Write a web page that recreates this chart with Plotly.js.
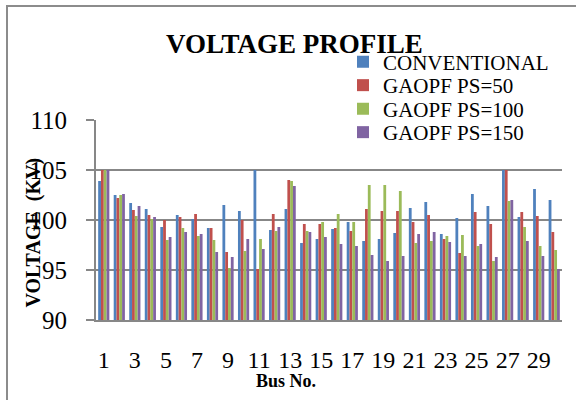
<!DOCTYPE html>
<html>
<head>
<meta charset="utf-8">
<script src="https://cdn.plot.ly/plotly-3.0.1.min.js"></script>
<style>
html,body{margin:0;padding:0;background:#fff;}
#chart{width:576px;height:400px;}
</style>
</head>
<body>
<div id="chart"></div>
<script>
var buses = [1,2,3,4,5,6,7,8,9,10,11,12,13,14,15,16,17,18,19,20,21,22,23,24,25,26,27,28,29,30];
var conventional = [103.9,102.5,101.7,101.1,99.3,100.5,100.1,99.2,101.5,100.9,105.0,99.0,101.1,97.7,98.1,99.1,99.8,97.9,98.1,98.7,101.2,101.8,98.6,100.2,102.6,101.4,105.0,100.3,103.1,102.0];
var ps50 = [105.0,102.2,101.0,100.5,100.0,100.3,100.6,99.2,96.8,100.0,95.1,100.6,104.0,99.6,99.6,99.2,98.9,101.1,100.9,100.9,99.8,100.5,98.1,96.7,100.8,99.6,105.0,100.8,100.4,98.8];
var ps100 = [105.0,102.5,100.4,100.1,98.0,99.2,98.4,98.0,95.2,96.9,98.1,98.9,103.9,98.9,99.8,100.6,99.8,103.5,103.5,102.9,97.7,97.9,98.4,98.5,97.4,95.9,101.9,99.3,97.4,97.0];
var ps150 = [105.0,102.6,101.4,100.3,98.3,98.8,98.6,96.8,96.3,98.1,97.1,99.3,103.4,98.8,98.3,97.6,97.4,96.5,95.9,96.4,98.6,98.8,97.8,96.4,97.6,96.3,102.0,97.9,96.4,95.1];
var seriesNames = ["CONVENTIONAL","GAOPF PS=50","GAOPF PS=100","GAOPF PS=150"];
var yTicks = [90,95,100,105,110];
var xTicks = [1,3,5,7,9,11,13,15,17,19,21,23,25,27,29];

var colors = ["#4F81BD","#C0504D","#9BBB59","#8064A2"];
var allSeries = [conventional, ps50, ps100, ps150];
var legendIds = ["legend","legend2","legend3","legend4"];
var serif = "Liberation Serif, Times New Roman, serif";

var traces = allSeries.map(function(vals, i){
  return {
    type: "bar",
    name: seriesNames[i],
    x: buses,
    y: vals,
    marker: {color: colors[i]},
    legend: legendIds[i],
    hoverinfo: "x+y+name"
  };
});

// plot area geometry in px
var L = 96, R = 14, T = 120, B = 80, W = 576 - L - R, H = 400 - T - B;
function px(x){ return (x - L) / W; }
function py(y){ return (T + H - y) / H; }

var legendRows = [62, 85.5, 109, 132.5];
var legendX = px(343);

var layout = {
  width: 576,
  height: 400,
  margin: {l: L, r: R, t: T, b: B},
  paper_bgcolor: "#ffffff",
  plot_bgcolor: "rgba(0,0,0,0)",
  barmode: "group",
  bargap: 0.28,
  bargroupgap: 0,
  font: {family: serif, color: "#000000"},
  title: {
    text: "<b>VOLTAGE PROFILE</b>",
    font: {family: serif, size: 27, color: "#000000"},
    xref: "paper", x: px(294.5), xanchor: "center",
    yref: "container", y: 1 - 43.5/400, yanchor: "middle"
  },
  xaxis: {
    range: [0.5, 30.5],
    tickmode: "array",
    tickvals: xTicks,
    ticktext: xTicks.map(String),
    ticks: "",
    ticklabelstandoff: 17,
    tickfont: {family: serif, size: 24, color: "#000000"},
    showgrid: false,
    zeroline: false,
    showline: true,
    linecolor: "#878787",
    linewidth: 2,
    fixedrange: true
  },
  yaxis: {
    range: [90, 110],
    tickmode: "array",
    tickvals: yTicks,
    ticktext: yTicks.map(String),
    ticks: "outside",
    ticklen: 8,
    tickwidth: 2,
    tickcolor: "#878787",
    ticklabelstandoff: 14,
    tickfont: {family: serif, size: 25, color: "#000000"},
    showgrid: true,
    gridcolor: "#878787",
    gridwidth: 2,
    zeroline: false,
    showline: true,
    linecolor: "#878787",
    linewidth: 2,
    fixedrange: true
  },
  showlegend: true,
  annotations: [
    {
      text: "<b>VOLTAGE  (KV)</b>",
      textangle: -90,
      xref: "paper", yref: "paper",
      x: px(32.5), y: py(233),
      xanchor: "center", yanchor: "middle",
      showarrow: false,
      font: {family: serif, size: 20, color: "#000000"}
    },
    {
      text: "<b>Bus No.</b>",
      xref: "paper", yref: "paper",
      x: px(286), y: py(381),
      xanchor: "center", yanchor: "middle",
      showarrow: false,
      font: {family: serif, size: 18, color: "#000000"}
    }
  ],
  shapes: [
    {
      type: "rect",
      xref: "paper", yref: "paper",
      x0: px(7), x1: px(590),
      y0: py(6), y1: py(410),
      line: {color: "#8c8c8c", width: 2},
      fillcolor: "rgba(0,0,0,0)",
      layer: "above"
    }
  ]
};

legendIds.forEach(function(id, i){
  layout[id] = {
    x: legendX,
    xanchor: "left",
    y: py(legendRows[i]),
    yanchor: "middle",
    bgcolor: "rgba(0,0,0,0)",
    borderwidth: 0,
    font: {family: serif, size: 21, color: "#000000"}
  };
});

Plotly.newPlot("chart", traces, layout, {displayModeBar: false, staticPlot: true});
</script>
</body>
</html>
